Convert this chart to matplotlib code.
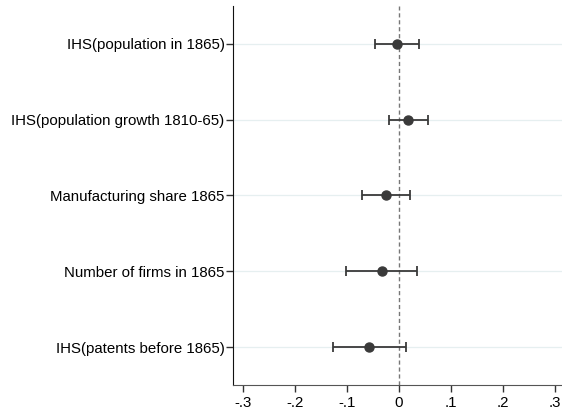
import matplotlib
matplotlib.use("Agg")
import matplotlib.pyplot as plt
from matplotlib.ticker import FuncFormatter

# coefficient estimates and 95% CIs, top to bottom
labels = ["IHS(population in 1865)",
          "IHS(population growth 1810-65)",
          "Manufacturing share 1865",
          "Number of firms in 1865",
          "IHS(patents before 1865)"]
coef = [-0.004, 0.018, -0.025, -0.033, -0.057]
ci_low = [-0.046, -0.020, -0.071, -0.102, -0.128]
ci_high = [0.038, 0.056, 0.021, 0.034, 0.013]
xticks = [-0.3, -0.2, -0.1, 0, 0.1, 0.2, 0.3]

plt.rcParams['font.family'] = ['Liberation Sans', 'DejaVu Sans']

fig = plt.figure(figsize=(5.62, 4.15), dpi=100)
ax = fig.add_axes([233 / 562, (415 - 385) / 415, (562 - 233) / 562, (385 - 6) / 415])

ypos = list(range(len(labels), 0, -1))
for y in ypos:
    ax.axhline(y, color="#e6eff0", lw=0.9, zorder=0)
ax.axvline(0, color="#777777", lw=1.0, ls=(0, (3, 2)), zorder=1)

err = [[c - l for c, l in zip(coef, ci_low)], [h - c for c, h in zip(coef, ci_high)]]
ax.errorbar(coef, ypos, xerr=err, fmt="o", color="#3a3a3a", ms=6.5,
            ecolor="#3a3a3a", elinewidth=1.3, capsize=3.5, capthick=1.3, zorder=3)

ax.set_xlim(-0.3195, 0.3135)
ax.set_ylim(0.5, len(labels) + 0.5)
ax.set_xticks(xticks)


def fmt(v, pos):
    if abs(v) < 1e-9:
        return "0"
    s = "%.1f" % v
    return s.replace("0.", ".")


ax.xaxis.set_major_formatter(FuncFormatter(fmt))
ax.set_yticks(ypos)
ax.set_yticklabels(labels)
ax.tick_params(axis="both", labelsize=10.8, length=5, width=1, color="#333333")
ax.tick_params(axis="x", pad=3)
ax.tick_params(axis="y", pad=1)

for side in ["top", "right"]:
    ax.spines[side].set_visible(False)
ax.spines["left"].set_color("#111111")
ax.spines["bottom"].set_color("#555555")

fig.savefig("out.png", dpi=100)
